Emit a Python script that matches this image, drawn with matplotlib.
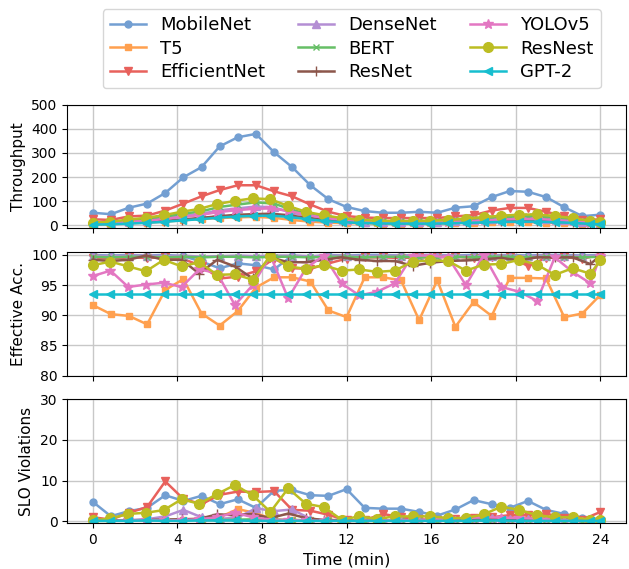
import numpy as np
import matplotlib
matplotlib.use('Agg')
import matplotlib.pyplot as plt

# two sampling grids (minutes)
t_a = np.linspace(0, 24, 29)
t_b = np.append(np.arange(29) * 0.84, 24.0)

models = ['MobileNet', 'T5', 'EfficientNet', 'DenseNet', 'BERT',
          'ResNet', 'YOLOv5', 'ResNest', 'GPT-2']

thr_mobilenet = [52, 46, 73, 90, 134, 199, 241, 327, 365, 379, 303, 241, 166, 108, 76,
                 59, 52, 52, 56, 52, 73, 79, 117, 142, 139, 117, 75, 38, 44]
thr_t5 = [4, 5, 8, 11, 15, 21, 26, 30, 33, 35, 31, 22, 15, 11, 9,
          8, 7, 7, 7, 8, 9, 11, 13, 14, 13, 11, 8, 5, 4]
thr_efficientnet = [25, 22, 37, 40, 61, 90, 120, 146, 166, 166, 141, 120, 86, 56, 38,
                    32, 30, 30, 30, 30, 37, 42, 61, 72, 72, 56, 38, 21, 25]
thr_densenet = [8, 10, 16, 21, 30, 40, 48, 62, 70, 78, 74, 52, 36, 27, 20,
                15, 13, 13, 13, 15, 17, 22, 26, 29, 31, 27, 22, 13, 10]
thr_bert = [10, 12, 20, 26, 36, 48, 58, 76, 86, 95, 90, 64, 44, 33, 24,
            19, 16, 16, 16, 18, 21, 27, 32, 36, 39, 34, 27, 16, 13]
thr_resnet = [5, 6, 10, 13, 18, 24, 30, 37, 43, 46, 48, 42, 31, 22, 16,
              12, 10, 9, 9, 9, 10, 12, 14, 17, 18, 18, 15, 12, 8, 6]
thr_yolov5 = [7, 9, 14, 18, 26, 34, 42, 54, 62, 68, 70, 60, 44, 31, 23,
              17, 14, 12, 12, 12, 14, 16, 20, 24, 26, 26, 22, 17, 11, 9]
thr_resnest = [11, 14, 24, 31, 42, 56, 68, 88, 101, 112, 108, 80, 56, 42, 30,
               23, 19, 18, 18, 19, 22, 28, 34, 40, 44, 45, 38, 30, 18, 15]
thr_gpt2 = [3, 4, 7, 10, 14, 20, 25, 31, 36, 39, 40, 35, 26, 18, 13,
            10, 8, 7, 7, 7, 8, 10, 12, 14, 15, 15, 13, 10, 6, 4]

acc_mobilenet = [100, 99.9, 100, 99.9, 100, 99.8, 98.9, 97.8, 98.6, 98.3, 97.6, 99.9, 99.7, 100, 99.9,
                 100, 100, 99.9, 100, 100, 99.9, 100, 99.9, 100, 99.9, 100, 100, 99.9, 100]
acc_t5 = [91.7, 90.2, 89.9, 88.5, 94.2, 96.0, 90.3, 88.3, 90.7, 94.6, 96.3, 96.3, 95.6, 90.8, 89.7,
          96.3, 96.3, 95.8, 89.2, 95.8, 88.1, 92.2, 89.9, 96.2, 96.2, 96.1, 89.7, 90.3, 93.4]
acc_efficientnet = [99.5, 99.4, 99.6, 99.5, 99.6, 99.3, 98.2, 96.1, 96.4, 97.3, 99.4, 97.8, 97.7, 98.6, 99.4,
                    99.6, 99.6, 99.5, 99.6, 99.6, 99.7, 99.5, 99.6, 99.6, 98.2, 99.5, 99.6, 99.4, 100]
acc_densenet = [99.9, 99.8, 99.9, 99.9, 99.8, 99.9, 99.7, 99.8, 99.9, 99.8, 99.9, 99.9, 99.8, 99.9, 99.9,
                99.8, 99.9, 99.9, 99.8, 99.9, 99.9, 99.8, 99.9, 99.9, 99.8, 99.9, 99.9, 99.8, 99.9]
acc_bert = [99.7, 99.6, 99.7, 99.7, 99.6, 99.7, 99.6, 99.7, 99.7, 99.6, 99.7, 99.7, 99.6, 99.7, 99.7,
            99.6, 99.7, 99.7, 99.6, 99.7, 99.7, 99.6, 99.7, 99.7, 99.6, 99.7, 99.7, 99.6, 99.7]
acc_resnet = [99.2, 99.0, 99.2, 99.9, 99.2, 99.2, 96.9, 99.2, 98.1, 96.1, 99.6, 98.8, 98.8, 99.2, 99.6,
              99.2, 99.0, 99.0, 98.2, 98.7, 99.0, 99.1, 99.3, 99.5, 99.1, 99.6, 99.6, 99.6, 98.5, 99.9]
acc_yolov5 = [96.5, 97.4, 94.7, 95.1, 95.4, 94.7, 97.6, 97.0, 91.7, 95.0, 99.9, 92.8, 97.8, 99.9, 95.3,
              93.3, 93.9, 95.3, 99.9, 99.9, 99.6, 95.0, 100.0, 94.7, 93.9, 92.4, 99.6, 97.2, 95.3, 99.9]
acc_resnest = [98.3, 98.9, 98.1, 97.3, 99.2, 98.1, 98.8, 96.7, 96.8, 95.9, 99.9, 98.1, 97.7, 98.3, 97.4,
               97.6, 97.2, 97.4, 98.9, 99.1, 99.0, 97.4, 98.4, 98.5, 99.2, 98.4, 96.7, 97.8, 96.9, 99.1]
acc_gpt2 = [93.6] * 30

slo_mobilenet = [4.8, 1.25, 2.5, 3.3, 6.4, 5.0, 6.25, 4.2, 5.4, 3.3, 7.5, 7.7, 6.4, 6.25, 7.9,
                 3.3, 3.1, 3.1, 2.3, 1.4, 2.9, 5.2, 4.2, 3.3, 5.0, 2.8, 1.8, 0.9, 0.5]
slo_t5 = [0.8, 0.3, 0.2, 0.4, 0.3, 0.4, 0.6, 1.0, 3.0, 2.0, 0.4, 0.3, 0.2, 0.2, 0.1,
          0.2, 0.2, 0.3, 0.2, 0.2, 0.3, 0.4, 0.6, 0.8, 0.7, 0.4, 0.2, 0.2, 0.4]
slo_efficientnet = [1.0, 0.4, 2.1, 3.5, 9.8, 5.5, 4.2, 6.5, 7.3, 7.2, 7.4, 2.8, 2.6, 1.6, 0.2,
                    0.3, 1.8, 1.0, 0.5, 0.3, 0.5, 0.8, 1.0, 1.5, 1.6, 1.9, 0.8, 0.4, 2.3]
slo_densenet = [0.2, 0.2, 0.3, 0.5, 1.2, 2.8, 1.0, 0.6, 0.9, 3.2, 2.5, 2.9, 0.6, 0.2, 0.1,
                0.1, 0.2, 0.2, 0.2, 0.2, 0.3, 0.5, 0.7, 0.6, 0.5, 0.3, 0.2, 0.1, 0.2]
slo_bert = [0.1, 0.1, 0.2, 0.2, 0.3, 0.4, 0.3, 0.3, 0.4, 0.5, 0.4, 0.3, 0.3, 0.2, 0.1,
            0.1, 0.1, 0.2, 0.2, 0.1, 0.2, 0.2, 0.3, 0.3, 0.3, 0.2, 0.1, 0.1, 0.1]
slo_resnet = [0.1, 0.2, 0.2, 0.3, 0.4, 0.5, 0.6, 1.7, 1.5, 1.8, 0.8, 1.9, 0.8, 0.3, 0.3,
              0.2, 0.2, 0.2, 0.3, 0.2, 0.3, 0.3, 0.4, 0.5, 0.6, 0.5, 0.3, 0.2, 0.1, 0.2]
slo_yolov5 = [0.2, 0.1, 0.2, 0.3, 0.2, 0.3, 0.5, 1.0, 2.1, 1.0, 0.4, 0.3, 0.2, 0.1, 0.1,
              0.2, 0.2, 0.3, 0.3, 0.4, 0.6, 0.8, 1.0, 0.9, 0.8, 0.6, 0.4, 0.2, 0.1, 0.2]
slo_resnest = [0.2, 0.7, 1.8, 2.1, 2.75, 5.4, 4.3, 6.7, 8.9, 6.4, 2.3, 8.1, 4.3, 3.5, 0.4,
               1.2, 0.6, 1.2, 1.2, 1.2, 0.8, 0.8, 1.7, 3.6, 2.8, 1.5, 1.0, 1.0, 0.4, 0.3]
slo_gpt2 = [0.1, 0.1, 0.1, 0.2, 0.1, 0.1, 0.2, 0.2, 0.2, 0.1, 0.1, 0.1, 0.1, 0.1, 0.1,
            0.1, 0.1, 0.1, 0.1, 0.1, 0.1, 0.1, 0.2, 0.2, 0.1, 0.1, 0.1, 0.1, 0.1, 0.1]

throughput = [thr_mobilenet, thr_t5, thr_efficientnet, thr_densenet, thr_bert,
              thr_resnet, thr_yolov5, thr_resnest, thr_gpt2]
accuracy = [acc_mobilenet, acc_t5, acc_efficientnet, acc_densenet, acc_bert,
            acc_resnet, acc_yolov5, acc_resnest, acc_gpt2]
slo = [slo_mobilenet, slo_t5, slo_efficientnet, slo_densenet, slo_bert,
       slo_resnet, slo_yolov5, slo_resnest, slo_gpt2]

colors = ['#739fd2', '#ffa04f', '#e8615c', '#b48ed4', '#66bf66',
          '#8c564b', '#e377c2', '#bcbd22', '#17becf']
markers = ['o', 's', 'v', '^', 'x', '+', '*', 'o', '<']
msizes = [5, 5, 6, 6, 5, 7, 7, 7, 6]

fig, axes = plt.subplots(3, 1, figsize=(6.29, 5.69), dpi=100, sharex=True)
fig.subplots_adjust(left=0.107, right=0.995, bottom=0.081, top=0.816, hspace=0.19)

for ax, data in zip(axes, [throughput, accuracy, slo]):
    for i, name in enumerate(models):
        y = np.array(data[i], dtype=float)
        t = t_a if len(y) == 29 else t_b
        ax.plot(t, y, color=colors[i], marker=markers[i], markersize=msizes[i],
                linewidth=1.8, label=name)
    ax.grid(True, color='#c8c8c8', linewidth=1.0)
    ax.tick_params(labelsize=10)

axes[0].set_ylim(-13, 500)
axes[0].set_yticks([0, 100, 200, 300, 400, 500])
axes[0].set_ylabel('Throughput', fontsize=11)
axes[1].set_ylim(80, 100.5)
axes[1].set_yticks([80, 85, 90, 95, 100])
axes[1].set_ylabel('Effective Acc.', fontsize=11)
axes[2].set_ylim(-0.4, 30)
axes[2].set_yticks([0, 10, 20, 30])
axes[2].set_ylabel('SLO Violations', fontsize=11)
axes[2].set_xlim(-1.2, 25.2)
axes[2].set_xticks([0, 4, 8, 12, 16, 20, 24])
axes[2].set_xlabel('Time (min)', fontsize=11.5)

handles, labels = axes[0].get_legend_handles_labels()
fig.legend(handles, labels, loc='upper center', bbox_to_anchor=(0.559, 1.0),
           ncol=3, fontsize=13, handlelength=2, columnspacing=1.8,
           labelspacing=0.3, borderpad=0.4)

fig.savefig('out.png', dpi=100)
